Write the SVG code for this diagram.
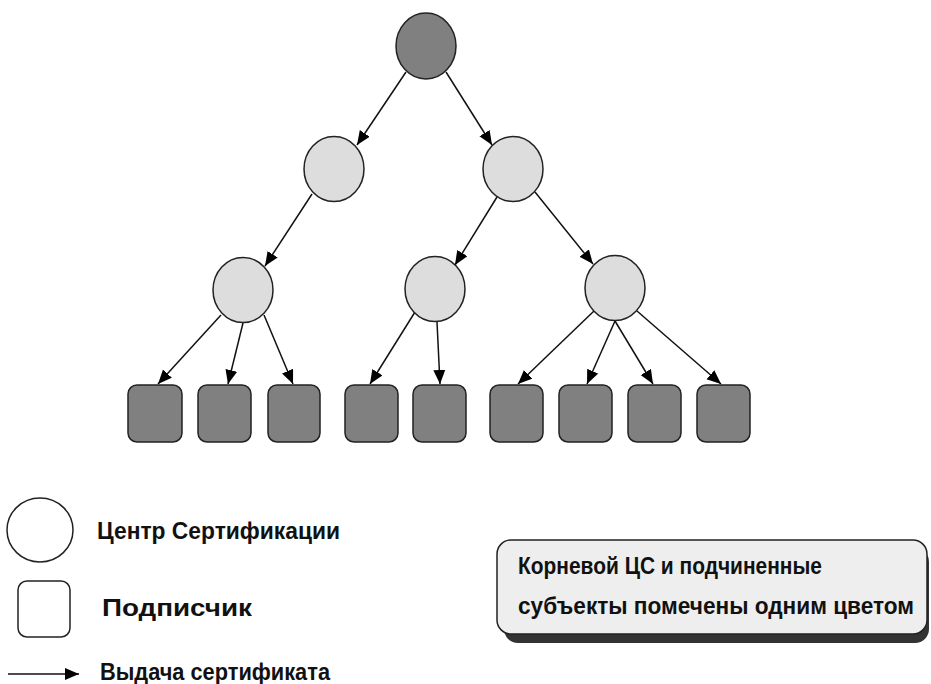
<svg xmlns="http://www.w3.org/2000/svg" width="931" height="684" viewBox="0 0 931 684">
<style>
.dark{fill:#808080;stroke:#222;stroke-width:1.5}
.light{fill:#dddddd;stroke:#222;stroke-width:1.5}
.leg{fill:#fff;stroke:#222;stroke-width:1.5}
.conn line{stroke:#111;stroke-width:1.5;marker-end:url(#ah)}
.t{font-family:"Liberation Sans",Arial,sans-serif;font-weight:bold;font-size:24px;fill:#111}
.n{font-size:23px}
</style>
<defs>
<marker id="ah" markerUnits="userSpaceOnUse" markerWidth="16" markerHeight="14" refX="14" refY="6" orient="auto">
<path d="M0,0 L14,6 L0,12 Z" fill="#000"/>
</marker>
</defs>
<rect width="931" height="684" fill="#fff"/>
<g id="connectors" class="conn">
<line x1="406" y1="72" x2="357" y2="145"/>
<line x1="446" y1="72" x2="492" y2="145"/>
<line x1="312" y1="194" x2="265" y2="266"/>
<line x1="497" y1="197" x2="455" y2="265"/>
<line x1="535" y1="192" x2="593" y2="264"/>
<line x1="221" y1="315" x2="158" y2="384"/>
<line x1="243" y1="323" x2="228" y2="384"/>
<line x1="264" y1="315" x2="293" y2="384"/>
<line x1="415" y1="312" x2="370" y2="384"/>
<line x1="437" y1="322" x2="440" y2="384"/>
<line x1="594" y1="311" x2="518" y2="384"/>
<line x1="615" y1="321" x2="587" y2="384"/>
<line x1="615" y1="321" x2="653" y2="384"/>
<line x1="637" y1="311" x2="721" y2="384"/>
<line x1="8" y1="674" x2="79" y2="674"/>
</g>
<g id="root"><ellipse class="dark" cx="426" cy="46" rx="30" ry="33"/></g>
<g id="ca-l2-left"><ellipse class="light" cx="334" cy="169" rx="30" ry="32.5"/></g>
<g id="ca-l2-right"><ellipse class="light" cx="513" cy="169" rx="30" ry="32.5"/></g>
<g id="ca-l3-left"><ellipse class="light" cx="243" cy="290" rx="30" ry="32.5"/></g>
<g id="ca-l3-mid"><ellipse class="light" cx="435" cy="289" rx="30" ry="32.5"/></g>
<g id="ca-l3-right"><ellipse class="light" cx="615" cy="288" rx="30" ry="32.5"/></g>
<g id="leaf1"><rect class="dark" x="128" y="385" width="54" height="57" rx="9"/></g>
<g id="leaf2"><rect class="dark" x="198" y="385" width="53" height="57" rx="9"/></g>
<g id="leaf3"><rect class="dark" x="268" y="385" width="52" height="57" rx="9"/></g>
<g id="leaf4"><rect class="dark" x="345" y="385" width="53" height="57" rx="9"/></g>
<g id="leaf5"><rect class="dark" x="413" y="385" width="53" height="57" rx="9"/></g>
<g id="leaf6"><rect class="dark" x="490" y="385" width="53" height="57" rx="9"/></g>
<g id="leaf7"><rect class="dark" x="559" y="385" width="53" height="57" rx="9"/></g>
<g id="leaf8"><rect class="dark" x="628" y="385" width="53" height="57" rx="9"/></g>
<g id="leaf9"><rect class="dark" x="697" y="385" width="53" height="57" rx="9"/></g>
<g id="legend-ca">
<ellipse class="leg" cx="40" cy="530" rx="33" ry="32"/>
<text class="t" x="97" y="539" textLength="243" lengthAdjust="spacingAndGlyphs">Центр Сертификации</text>
</g>
<g id="legend-subscriber">
<rect class="leg" x="18" y="581" width="52" height="56" rx="9"/>
<text class="t" x="102" y="616" textLength="150" lengthAdjust="spacingAndGlyphs">Подписчик</text>
</g>
<g id="legend-issue">
<text class="t" x="100" y="680" textLength="230" lengthAdjust="spacingAndGlyphs">Выдача сертификата</text>
</g>
<g id="note">
<rect x="504" y="548" width="425" height="95" rx="14" fill="#333"/>
<rect x="497" y="540" width="430" height="94" rx="14" fill="#eeeeee" stroke="#222" stroke-width="1.5"/>
<text class="t n" x="518" y="574" textLength="304" lengthAdjust="spacingAndGlyphs">Корневой ЦС и подчиненные</text>
<text class="t n" x="518" y="614" textLength="396" lengthAdjust="spacingAndGlyphs">субъекты помечены одним цветом</text>
</g>
</svg>
